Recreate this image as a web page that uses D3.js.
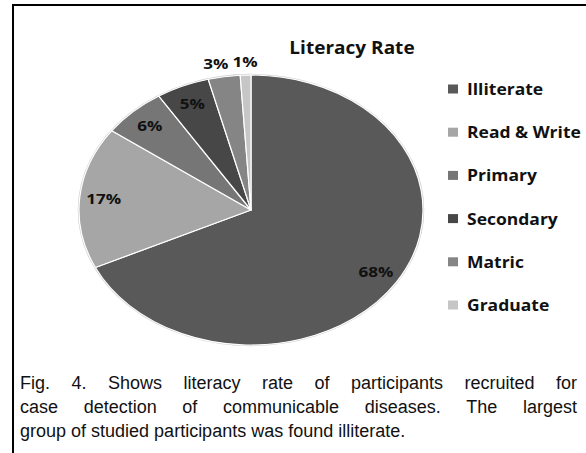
<!DOCTYPE html>
<html>
<head>
<meta charset="utf-8">
<script src="https://cdn.jsdelivr.net/npm/d3@7"></script>
<style>
  html, body { margin: 0; padding: 0; background: #fff; }
  svg { display: block; }
</style>
</head>
<body>
<svg id="chart" width="586" height="453"></svg>
<script>
// Literacy levels of recruited participants (percent)
const categories = ["Illiterate", "Read & Write", "Primary", "Secondary", "Matric", "Graduate"];
const values = [68, 17, 6, 5, 3, 1];
const shades = ["#595959", "#a6a6a6", "#767676", "#474747", "#858585", "#c6c6c6"];
const chartTitle = "Literacy Rate";
const captionLines = [
  "Fig. 4. Shows literacy rate of participants recruited for",
  "case detection of communicable diseases. The largest",
  "group of studied participants was found illiterate."
];

const svg = d3.select("#chart");
const W = 586, H = 453;
const labelFont = "'Open Sans', 'DejaVu Sans', sans-serif";

// frame: top and left rules
svg.append("line").attr("x1", 12).attr("x2", W).attr("y1", 5).attr("y2", 5)
  .attr("stroke", "#000").attr("stroke-width", 2);
svg.append("line").attr("x1", 13).attr("x2", 13).attr("y1", 4).attr("y2", H)
  .attr("stroke", "#000").attr("stroke-width", 2);

// pie is drawn as a circle then squashed vertically into an ellipse
const cx = 251, cy = 210, rx = 172, ry = 135;
const sy = ry / rx;
const color = d3.scaleOrdinal().domain(categories).range(shades);

const pie = d3.pie().sort(null).value(d => d.value);
const data = categories.map((c, i) => ({ name: c, value: values[i] }));
const arcs = pie(data);
const arc = d3.arc().innerRadius(0).outerRadius(rx);

const pieG = svg.append("g").attr("transform", `translate(${cx},${cy}) scale(1,${sy})`);

// soft outline around the rim
pieG.append("circle").attr("r", rx + 0.5)
  .attr("fill", "none").attr("stroke", "#cfcfcf").attr("stroke-width", 1.5)
  .attr("vector-effect", "non-scaling-stroke");

pieG.selectAll("path.slice").data(arcs).enter().append("path")
  .attr("class", "slice")
  .attr("d", arc)
  .attr("fill", d => color(d.data.name))
  .attr("stroke", "#fff").attr("stroke-width", 1.2)
  .attr("stroke-linejoin", "round")
  .attr("vector-effect", "non-scaling-stroke");

// bold text, widened a little horizontally
function wideText(sel, size, stretch) {
  return sel.attr("font-family", labelFont).attr("font-weight", 700)
    .attr("font-size", size).attr("fill", "#111")
    .attr("transform", `scale(${stretch},1)`);
}

// percentage labels: inside for larger slices, just beyond the rim for small ones
const total = d3.sum(values);
const lblStretch = 1.18;
const labels = arcs.map(d => {
  const mid = (d.startAngle + d.endAngle) / 2;
  const pct = d.data.value / total * 100;
  const f = pct < 4 ? 1.1 : 0.86;
  return {
    text: Math.round(pct) + "%",
    x: cx + Math.sin(mid) * rx * f,
    y: cy - Math.cos(mid) * ry * f,
    outside: pct < 4
  };
});
const labelNodes = svg.append("g").selectAll("text").data(labels).enter().append("text")
  .attr("x", d => d.x / lblStretch).attr("y", d => d.y)
  .attr("dy", "0.36em")
  .attr("text-anchor", "middle")
  .text(d => d.text);
wideText(labelNodes, 14.5, lblStretch);

// keep neighbouring outside labels from overlapping: push earlier ones left
const nodes = labelNodes.nodes();
for (let i = nodes.length - 2; i >= 0; i--) {
  if (!labels[i].outside || !labels[i + 1].outside) continue;
  const a = nodes[i].getBBox(), b = nodes[i + 1].getBBox();
  const overlap = (a.x + a.width - b.x) * lblStretch + 4;
  if (overlap > 0) {
    labels[i].x -= overlap;
    d3.select(nodes[i]).attr("x", labels[i].x / lblStretch);
  }
}

// title
const titleStretch = 1.12;
wideText(svg.append("text").attr("x", 352 / titleStretch).attr("y", 54)
  .attr("text-anchor", "middle").text(chartTitle), 17, titleStretch);

// legend
const legStretch = 1.06;
const legendY = d3.scalePoint().domain(categories).range([89, 305]);
const legend = svg.append("g").selectAll("g").data(categories).enter().append("g")
  .attr("transform", d => `translate(448,${legendY(d)})`);
legend.append("rect").attr("x", 0).attr("y", -4.5).attr("width", 10).attr("height", 9)
  .attr("fill", d => color(d));
wideText(legend.append("text").attr("x", 19 / legStretch).attr("y", 0).attr("dy", "0.36em")
  .text(d => d), 16.5, legStretch);

// justified caption below the chart
const capLeft = 20, capRight = 577, capSize = 18, lineGap = 24, firstBase = 389;
const capG = svg.append("g")
  .attr("font-family", "'Liberation Sans', Arial, sans-serif")
  .attr("font-size", capSize).attr("fill", "#111");
const probe = capG.append("text");
const widthOf = s => { probe.text(s); return probe.node().getComputedTextLength(); };
const spaceW = widthOf("a b") - widthOf("ab");
captionLines.forEach((line, li) => {
  const ws = line.split(" ").map(w => ({ w, ww: widthOf(w) }));
  const last = li === captionLines.length - 1;
  const wordsW = d3.sum(ws, d => d.ww);
  const gap = last ? spaceW : (capRight - capLeft - wordsW) / (ws.length - 1);
  let x = capLeft;
  ws.forEach(d => {
    capG.append("text").attr("x", x).attr("y", firstBase + li * lineGap).text(d.w);
    x += d.ww + gap;
  });
});
probe.remove();
</script>
</body>
</html>
